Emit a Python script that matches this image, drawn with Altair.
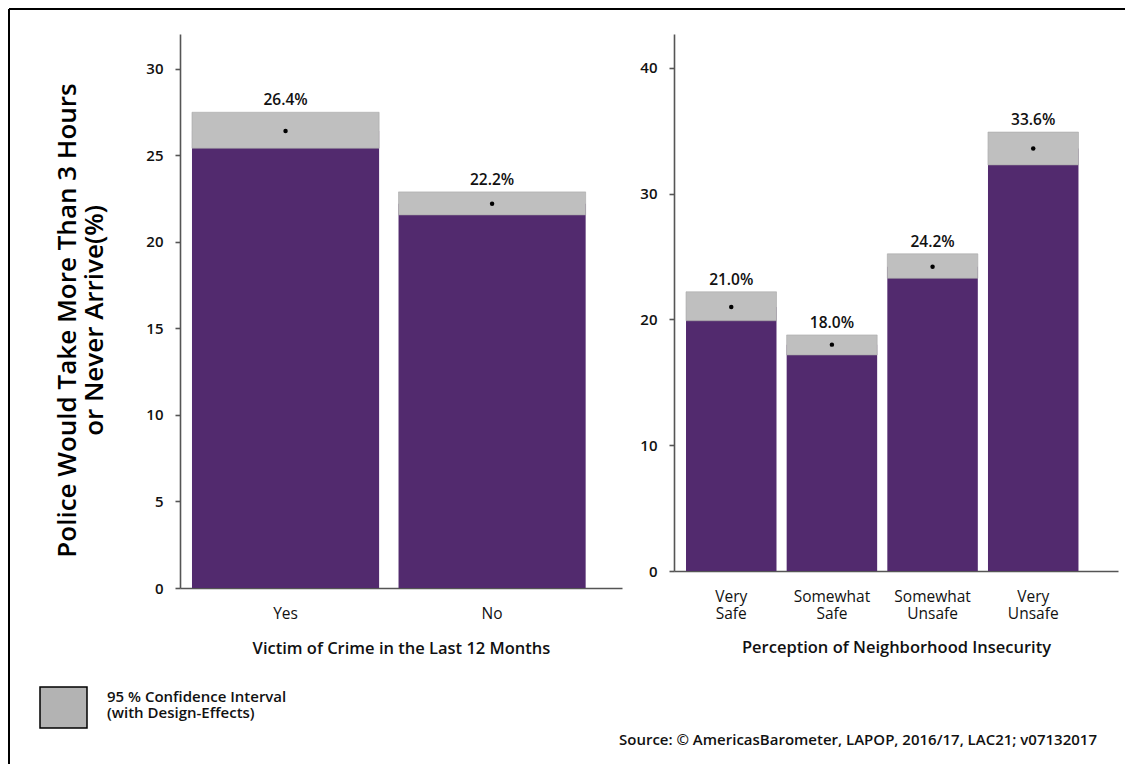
import altair as alt
import pandas as pd

# ---- data ----
crime_cats = ["Yes", "No"]
crime_mean = [26.4, 22.2]
crime_low = [25.4, 21.55]
crime_high = [27.48, 22.88]

insec_cats = ["Very Safe", "Somewhat Safe", "Somewhat Unsafe", "Very Unsafe"]
insec_mean = [21.0, 18.0, 24.2, 33.6]
insec_low = [19.9, 17.18, 23.27, 32.29]
insec_high = [22.2, 18.77, 25.22, 34.9]

left_ticks = [0, 5, 10, 15, 20, 25, 30]
right_ticks = [0, 10, 20, 30, 40]

y_title = ["Police Would Take More Than 3 Hours", "or Never Arrive(%)"]
x_title_left = "Victim of Crime in the Last 12 Months"
x_title_right = "Perception of Neighborhood Insecurity"
legend_lines = ["95 % Confidence Interval", "(with Design-Effects)"]
source_text = "Source: \u00a9 AmericasBarometer, LAPOP, 2016/17, LAC21; v07132017"

PURPLE = "#522a6e"
CI_GRAY = "#bfbfbf"
FONT = "Open Sans"
AXIS_COL = "#555555"
TXT = "#111111"

df1 = pd.DataFrame({"cat": crime_cats, "mean": crime_mean, "low": crime_low, "high": crime_high})
df1["label"] = [f"{v:.1f}%" for v in crime_mean]
df2 = pd.DataFrame({"cat": insec_cats, "mean": insec_mean, "low": insec_low, "high": insec_high})
df2["label"] = [f"{v:.1f}%" for v in insec_mean]
one = pd.DataFrame({"k": [0]})


def panel(df, cats, domain_top, ticks, pad_in, pad_out, align,
          x_title, title_x, title_y, y_axis_title=None):
    xscale = alt.Scale(domain=cats, paddingInner=pad_in, paddingOuter=pad_out, align=align)
    yscale = alt.Scale(domain=[0, domain_top], nice=False, zero=True)
    yaxis_kwargs = dict(
        values=ticks, grid=False, domain=True, domainColor=AXIS_COL, domainWidth=1.6,
        ticks=True, tickSize=5, tickColor=AXIS_COL, tickWidth=1.6,
        labelPadding=12, labelFont=FONT, labelFontSize=15, labelFontWeight=600,
        labelColor=TXT,
    )
    if y_axis_title is not None:
        yaxis_kwargs.update(
            title=y_axis_title, titleFont=FONT, titleFontSize=26, titleFontWeight=600,
            titleColor="#000000", titleAngle=-90, titleAlign="center",
            titleBaseline="middle", titleX=-113, titleY=286, titleLineHeight=27,
        )
    else:
        yaxis_kwargs.update(title=None)
    yaxis = alt.Axis(**yaxis_kwargs)
    xaxis = alt.Axis(
        title=x_title, titleFont=FONT, titleFontSize=16.5, titleFontWeight=600,
        titleColor=TXT, titleAlign="center", titleBaseline="alphabetic",
        titleX=title_x, titleY=title_y,
        labelAngle=0, ticks=False, domain=True, domainColor=AXIS_COL, domainWidth=1.6,
        labelPadding=18, labelFont=FONT, labelFontSize=15.5, labelFontWeight=500,
        labelColor=TXT, labelExpr="split(datum.label, ' ')", labelLineHeight=17,
        labelBaseline="top",
    )
    base = alt.Chart(df)
    bars = base.mark_bar(color=PURPLE).encode(
        x=alt.X("cat:N", scale=xscale, axis=xaxis, sort=cats),
        y=alt.Y("mean:Q", scale=yscale, axis=yaxis),
        y2=alt.datum(0),
    )
    ci = base.mark_bar(color=CI_GRAY, stroke="#a8a8a8", strokeWidth=0.6).encode(
        x=alt.X("cat:N", sort=cats),
        y="low:Q",
        y2="high:Q",
    )
    dots = base.mark_point(filled=True, color="black", size=20, opacity=1).encode(
        x=alt.X("cat:N", sort=cats),
        y="mean:Q",
    )
    labels = base.mark_text(font=FONT, fontSize=15.5, fontWeight=600, color=TXT,
                            baseline="alphabetic", dy=-7).encode(
        x=alt.X("cat:N", sort=cats),
        y="high:Q",
        text="label:N",
    )
    return [bars, ci, dots, labels]


left_layers = panel(df1, crime_cats, 32, left_ticks, 0.094, 0.117, 0.248,
                    x_title_left, 221, 65, y_axis_title=y_title)
right_layers = panel(df2, insec_cats, 42.7, right_ticks, 0.101, 0.256, 0.233,
                     x_title_right, 222, 81.5)

# frame lines (top and left edge of the figure)
frame_top = alt.Chart(one).mark_rule(color="black", strokeWidth=2).encode(
    x=alt.value(-171), x2=alt.value(945), y=alt.value(-25))
frame_left = alt.Chart(one).mark_rule(color="black", strokeWidth=2).encode(
    x=alt.value(-171), y=alt.value(-25), y2=alt.value(730))

# legend box and text
leg_box = alt.Chart(one).mark_rect(fill="#b3b3b3", stroke="black", strokeWidth=1.5).encode(
    x=alt.value(-140), x2=alt.value(-93), y=alt.value(653), y2=alt.value(694))
leg_t1 = alt.Chart(one).mark_text(font=FONT, fontSize=15, fontWeight=600, align="left",
                                  baseline="alphabetic", color=TXT).encode(
    x=alt.value(-73), y=alt.value(668), text=alt.value(legend_lines[0]))
leg_t2 = alt.Chart(one).mark_text(font=FONT, fontSize=15, fontWeight=600, align="left",
                                  baseline="alphabetic", color=TXT).encode(
    x=alt.value(-73), y=alt.value(684), text=alt.value(legend_lines[1]))

src = alt.Chart(one).mark_text(font=FONT, fontSize=15, fontWeight=600, align="right",
                               baseline="alphabetic", color=TXT).encode(
    x=alt.value(423), y=alt.value(711), text=alt.value(source_text))

no_stroke = alt.ViewBackground(stroke="transparent", strokeWidth=0)

left = alt.layer(*left_layers, frame_top, frame_left, leg_box, leg_t1, leg_t2).properties(
    width=442, height=554, view=no_stroke)
right = alt.layer(*right_layers, src).properties(width=444, height=537, view=no_stroke)

chart = alt.hconcat(left, right, spacing=52, bounds="flush").properties(
    padding=0
).configure(font=FONT).configure_view(strokeWidth=0, stroke="transparent")

chart.save("out.html", embed_options={"renderer": "svg", "actions": False})
